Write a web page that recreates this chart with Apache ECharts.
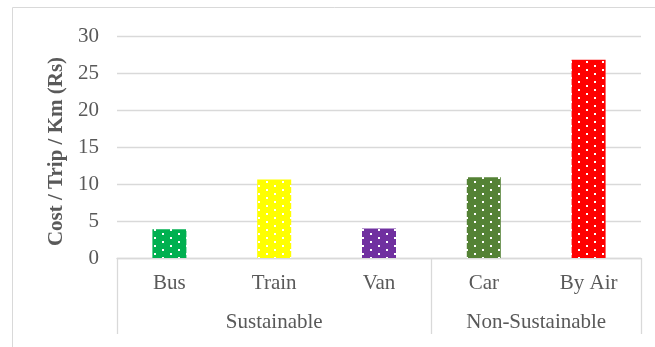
<!DOCTYPE html>
<html>
<head>
<meta charset="utf-8">
<title>Cost per trip per km</title>
<script src="https://cdn.jsdelivr.net/npm/echarts@6/dist/echarts.min.js"></script>
<style>
  html, body { margin: 0; padding: 0; background: #fff; }
  #chart { width: 655px; height: 347px; }
</style>
</head>
<body>
<div id="chart"></div>
<script>
// data
var categories = ['Bus', 'Train', 'Van', 'Car', 'By Air'];
var costs = [3.9, 10.6, 4.0, 10.9, 26.8];
var barColors = ['#00B050', '#FFFF00', '#7030A0', '#548235', '#FF0000'];
var groupNames = ['Sustainable', 'Non-Sustainable'];
var groupSizes = [3, 2];
var yMin = 0, yMax = 30, yStep = 5;

// dotted fill like the excel "5%" pattern
function dotPattern(color) {
    var c = document.createElement('canvas');
    c.width = 16;
    c.height = 8;
    var ctx = c.getContext('2d');
    ctx.fillStyle = color;
    ctx.fillRect(0, 0, 16, 8);
    ctx.fillStyle = '#fff';
    ctx.fillRect(2, 1, 2, 2);
    ctx.fillRect(10, 5, 2, 2);
    return { image: c, repeat: 'repeat' };
}

// group borders and centres on a 0..n scale
var bounds = [0];
groupSizes.forEach(function (s) { bounds.push(bounds[bounds.length - 1] + s); });
var centers = [];
for (var i = 0; i < groupNames.length; i++) centers.push((bounds[i] + bounds[i + 1]) / 2);

var barData = costs.map(function (v, i) {
    return { value: v, itemStyle: { color: dotPattern(barColors[i]) } };
});

var font = 'Liberation Serif, Times New Roman, serif';
var myChart = echarts.init(document.getElementById('chart'));
myChart.setOption({
    animation: false,
    graphic: [{
        type: 'rect',
        shape: { x: 12.5, y: 7.5, width: 700, height: 400 },
        style: { fill: 'none', stroke: '#d9d9d9', lineWidth: 1 },
        silent: true
    }],
    grid: { left: 117, right: 14, top: 36, bottom: 89 },
    xAxis: [{
        type: 'category',
        data: categories,
        axisLine: { lineStyle: { color: '#d9d9d9', width: 1.3 } },
        axisTick: { show: false },
        axisLabel: { color: '#595959', fontFamily: font, fontSize: 21, margin: 15 }
    }, {
        type: 'value',
        min: 0,
        max: categories.length,
        position: 'bottom',
        axisLine: { show: false },
        splitLine: { show: false },
        axisTick: {
            show: true,
            customValues: bounds,
            length: 76,
            lineStyle: { color: '#d9d9d9', width: 1.3 }
        },
        axisLabel: {
            customValues: centers,
            color: '#595959', fontFamily: font, fontSize: 21, margin: 54,
            formatter: function (v) {
                var k = centers.indexOf(v);
                return k >= 0 ? groupNames[k] : '';
            }
        }
    }],
    yAxis: {
        type: 'value',
        min: yMin,
        max: yMax,
        interval: yStep,
        name: 'Cost / Trip / Km (Rs)',
        nameLocation: 'middle',
        nameGap: 46,
        nameTextStyle: { color: '#595959', fontFamily: font, fontSize: 21, fontWeight: 'bold', padding: [0, 9, 0, 0] },
        axisLine: { show: false },
        axisTick: { show: false },
        splitLine: { lineStyle: { color: '#d9d9d9', width: 1.3 } },
        axisLabel: { color: '#595959', fontFamily: font, fontSize: 21, margin: 18 }
    },
    series: [{
        type: 'bar',
        xAxisIndex: 0,
        barWidth: 34,
        data: barData
    }]
});
</script>
</body>
</html>
